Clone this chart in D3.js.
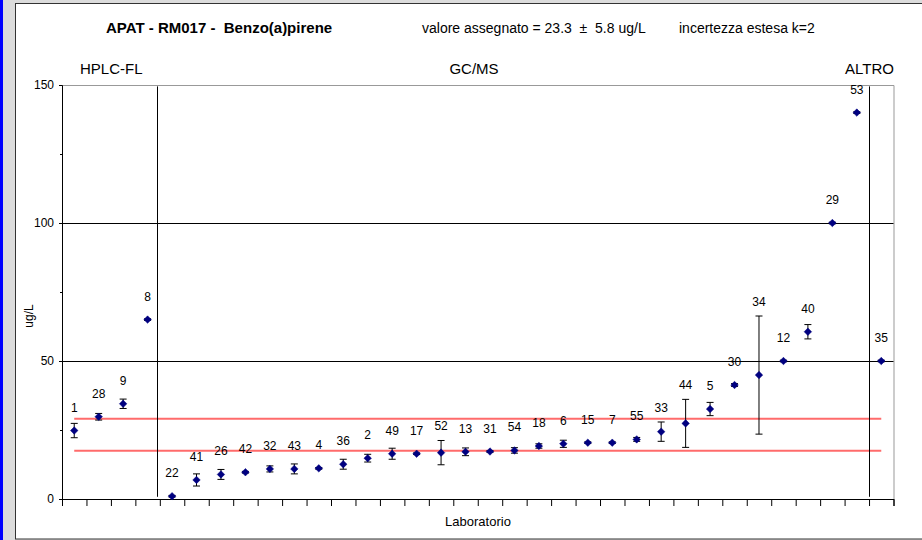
<!DOCTYPE html>
<html>
<head>
<meta charset="utf-8">
<script src="https://cdn.jsdelivr.net/npm/d3@7"></script>
<style>
    body { margin: 0; background: #ffffff; }
    svg { display: block; font-family: "Liberation Sans", Arial, sans-serif; }
</style>
</head>
<body>
<div id="chart"></div>
<script>
// laboratory codes, in plotted order
const labs = ['1', '28', '9', '8',
    '22', '41', '26', '42', '32', '43', '4', '36', '2', '49', '17', '52', '13', '31', '54',
    '18', '6', '15', '7', '55', '33', '44', '5', '30', '34', '12', '40', '29', '53',
    '35'];
// reported values (ug/L)
const values = [24.8, 29.8, 34.5, 65.0,
    1.0, 6.9, 8.9, 9.7, 10.9, 10.9, 11.1, 12.6, 14.8, 16.4, 16.4, 16.8, 17.1, 17.2, 17.6,
    19.2, 20.0, 20.4, 20.4, 21.6, 24.4, 27.4, 32.6, 41.3, 44.9, 50.0, 60.6, 100.0, 140.0,
    50.0];
// expanded uncertainty of each lab (half width of the error bar)
const uncert = [2.6, 1.2, 1.7, 0.3,
    0.3, 2.2, 1.8, 0.3, 1.1, 1.8, 0.3, 1.8, 1.4, 2.0, 0.3, 4.4, 1.4, 0.3, 1.0,
    0.8, 1.3, 0.3, 0.3, 0.7, 3.5, 8.7, 2.4, 0.5, 21.4, 0.3, 2.6, 0.3, 0.3,
    0.3];
const methods = ['HPLC-FL', 'GC/MS', 'ALTRO'];
const yTicks = [0, 50, 100, 150];
const assigned = 23.3;
const assignedU = 5.8;

const width = 922;
const height = 540;

function buildChart() {
    const svg = d3.select('#chart')
        .append('svg')
        .attr('width', width)
        .attr('height', height);

    // grey frame + blue strip on the left
    svg.append('rect').attr('x', 0).attr('y', 0).attr('width', width).attr('height', height).attr('fill', '#dcdcdc');
    svg.append('rect').attr('x', 0).attr('y', 0).attr('width', 3).attr('height', height).attr('fill', '#0000ff');
    svg.append('rect')
        .attr('x', 15.5).attr('y', 3.5)
        .attr('width', width).attr('height', 535.5)
        .attr('fill', '#ffffff')
        .attr('stroke', '#333')
        .attr('stroke-width', 1);

    const xScale = d3.scaleLinear().domain([0, labs.length]).range([62, 893.5]);
    const yScale = d3.scaleLinear().domain([0, 150]).range([499, 85]);

    // plot border (grey, top and right)
    svg.append('path')
        .attr('d', `M${xScale(0)},${yScale(150) + 0.5}H${xScale(labs.length) + 0.5}V${yScale(0)}`)
        .attr('fill', 'none')
        .attr('stroke', '#999')
        .attr('stroke-width', 1);

    // horizontal gridlines
    svg.append('g').selectAll('line')
        .data(yTicks.filter(d => d > 0 && d < 150))
        .enter()
        .append('line')
        .attr('x1', xScale(0)).attr('x2', xScale(labs.length))
        .attr('y1', d => Math.round(yScale(d)) + 0.5)
        .attr('y2', d => Math.round(yScale(d)) + 0.5)
        .attr('stroke', '#000')
        .attr('stroke-width', 1);

    // y axis
    const yAxis = d3.axisLeft(yScale)
        .tickValues(yTicks)
        .tickSize(3)
        .tickPadding(5)
        .tickFormat(d3.format('d'));
    const yAxisGroup = svg.append('g')
        .attr('transform', `translate(${xScale(0)}, 0)`)
        .call(yAxis);
    yAxisGroup.select('.domain').attr('stroke', '#000');
    yAxisGroup.selectAll('text').attr('font-size', 12).attr('font-family', '"Liberation Sans", Arial, sans-serif').attr('fill', '#000');
    // minor ticks
    svg.append('g').selectAll('line')
        .data([25, 75, 125])
        .enter()
        .append('line')
        .attr('x1', xScale(0) - 2).attr('x2', xScale(0))
        .attr('y1', d => Math.round(yScale(d)) + 0.5)
        .attr('y2', d => Math.round(yScale(d)) + 0.5)
        .attr('stroke', '#000');

    // x axis: ticks between categories, no labels
    const xAxis = d3.axisBottom(xScale)
        .tickValues(d3.range(0, labs.length + 1))
        .tickSize(7)
        .tickFormat('');
    const xAxisGroup = svg.append('g')
        .attr('transform', `translate(0, ${yScale(0)})`)
        .call(xAxis);
    xAxisGroup.select('.domain').attr('stroke', '#000');

    // assigned value +/- uncertainty
    svg.append('g').selectAll('line')
        .data([assigned - assignedU, assigned + assignedU])
        .enter()
        .append('line')
        .attr('x1', xScale(0.5)).attr('x2', xScale(labs.length - 0.5))
        .attr('y1', d => yScale(d)).attr('y2', d => yScale(d))
        .attr('stroke', '#ff6b6b')
        .attr('stroke-width', 2);

    // method separators
    svg.append('g').selectAll('line')
        .data([3.9, 33])
        .enter()
        .append('line')
        .attr('x1', d => Math.round(xScale(d)) + 0.5)
        .attr('x2', d => Math.round(xScale(d)) + 0.5)
        .attr('y1', yScale(149.5)).attr('y2', yScale(0.8))
        .attr('stroke', '#000')
        .attr('stroke-width', 1);

    // error bars
    const errG = svg.append('g');
    values.forEach((v, i) => {
        const cx = xScale(i + 0.5);
        const top = yScale(v + uncert[i]);
        const bot = yScale(v - uncert[i]);
        errG.append('path')
            .attr('d', `M${cx},${top}V${bot}M${cx - 3.5},${top}H${cx + 3.5}M${cx - 3.5},${bot}H${cx + 3.5}`)
            .attr('fill', 'none')
            .attr('stroke', '#000')
            .attr('stroke-width', 1);
    });

    // diamond markers
    svg.append('g').selectAll('path')
        .data(values)
        .enter()
        .append('path')
        .attr('d', d3.symbol(d3.symbolDiamond2, 36))
        .attr('transform', (d, i) => `translate(${xScale(i + 0.5)}, ${yScale(d)})`)
        .attr('fill', '#000080')
        .attr('stroke', '#000080')
        .attr('stroke-width', 0.5);

    // lab labels
    svg.append('g').selectAll('text')
        .data(values)
        .enter()
        .append('text')
        .attr('x', (d, i) => xScale(i + 0.5))
        .attr('y', (d, i) => Math.min(yScale(d) - 23, yScale(d + uncert[i]) - 14) + 4)
        .attr('text-anchor', 'middle')
        .attr('font-size', 12)
        .attr('fill', '#000')
        .text((d, i) => labs[i]);

    // titles
    svg.append('text')
        .attr('x', 106).attr('y', 33)
        .attr('font-size', 15)
        .attr('font-weight', 'bold')
        .attr('xml:space', 'preserve')
        .text('APAT - RM017 -  Benzo(a)pirene');
    svg.append('text')
        .attr('x', 422).attr('y', 33)
        .attr('font-size', 14)
        .attr('xml:space', 'preserve')
        .text('valore assegnato = 23.3  \u00b1  5.8 ug/L');
    svg.append('text')
        .attr('x', 679).attr('y', 33)
        .attr('font-size', 14)
        .text('incertezza estesa k=2');

    // method headers
    svg.append('text').attr('x', 80).attr('y', 74).attr('font-size', 15).text(methods[0]);
    svg.append('text').attr('x', 474).attr('y', 74).attr('text-anchor', 'middle').attr('font-size', 15).text(methods[1]);
    svg.append('text').attr('x', 894).attr('y', 74).attr('text-anchor', 'end').attr('font-size', 15).text(methods[2]);

    // axis titles
    svg.append('text')
        .attr('x', 478).attr('y', 526)
        .attr('text-anchor', 'middle')
        .attr('font-size', 13)
        .text('Laboratorio');
    svg.append('text')
        .attr('transform', 'translate(33, 316) rotate(-90)')
        .attr('text-anchor', 'middle')
        .attr('font-size', 12)
        .text('ug/L');
}

document.addEventListener('DOMContentLoaded', () => buildChart());
</script>
</body>
</html>
